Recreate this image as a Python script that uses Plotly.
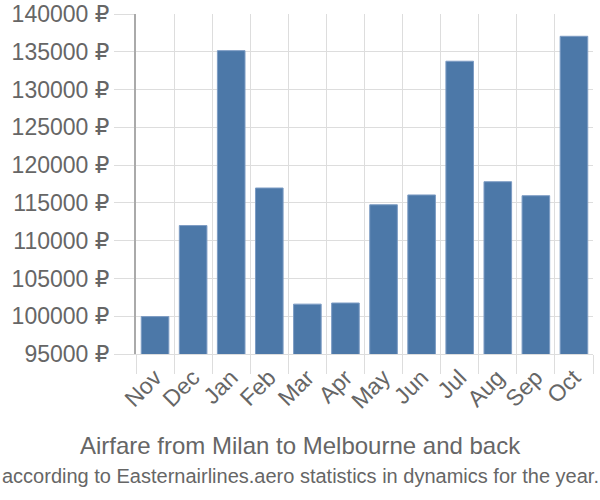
import plotly.graph_objects as go

months = ["Nov", "Dec", "Jan", "Feb", "Mar", "Apr", "May", "Jun", "Jul", "Aug", "Sep", "Oct"]
prices = [99950, 112000, 135150, 116970, 101600, 101750, 114750, 116050, 133750, 117800, 115950, 137050]
tick_values = list(range(95000, 140001, 5000))
tick_labels = [f"{v} ₽" for v in tick_values]
title_line1 = "Airfare from Milan to Melbourne and back"
title_line2 = "according to Easternairlines.aero statistics in dynamics for the year."

W, H = 600, 500
L, R, T, B = 136, 7, 14, 146
pw, ph = W - L - R, H - T - B

def px_to_paper_x(px):
    return (px - L) / pw

def px_to_paper_y(py):
    return (H - B - py) / ph

fig = go.Figure(go.Bar(
    x=months, y=prices,
    marker=dict(color="#4c78a8", line=dict(color="#7d9cc4", width=1)),
))

fig.update_layout(
    width=W, height=H,
    margin=dict(l=L, r=R, t=T, b=B, autoexpand=False),
    plot_bgcolor="white", paper_bgcolor="white",
    font=dict(family="Liberation Sans, Arial, sans-serif", color="#666666"),
    bargap=0.275,
    showlegend=False,
    annotations=[
        dict(text=title_line1, x=px_to_paper_x(300), y=px_to_paper_y(445), xref="paper", yref="paper",
             showarrow=False, xanchor="center", yanchor="middle",
             font=dict(size=24, color="#666666")),
        dict(text=title_line2, x=px_to_paper_x(300), y=px_to_paper_y(476), xref="paper", yref="paper",
             showarrow=False, xanchor="center", yanchor="middle",
             font=dict(size=20, color="#666666")),
    ],
)

fig.update_yaxes(
    range=[95000, 140000], tickmode="array", tickvals=tick_values, ticktext=tick_labels,
    showgrid=True, gridcolor="#dddddd", gridwidth=1,
    ticks="outside", ticklen=20, tickcolor="#dddddd",
    showline=True, linecolor="#aaaaaa", linewidth=2,
    tickfont=dict(size=23, color="#666666", family="Liberation Sans, DejaVu Sans, sans-serif"),
    zeroline=False, automargin=False,
)
fig.update_xaxes(
    tickson="boundaries", showgrid=True, gridcolor="#dddddd", gridwidth=1,
    ticks="outside", ticklen=19, tickcolor="#dddddd",
    showline=True, linecolor="#dddddd", linewidth=1,
    tickangle=-45, tickfont=dict(size=23, color="#666666"),
    automargin=False,
)

fig.write_html("out.html")
